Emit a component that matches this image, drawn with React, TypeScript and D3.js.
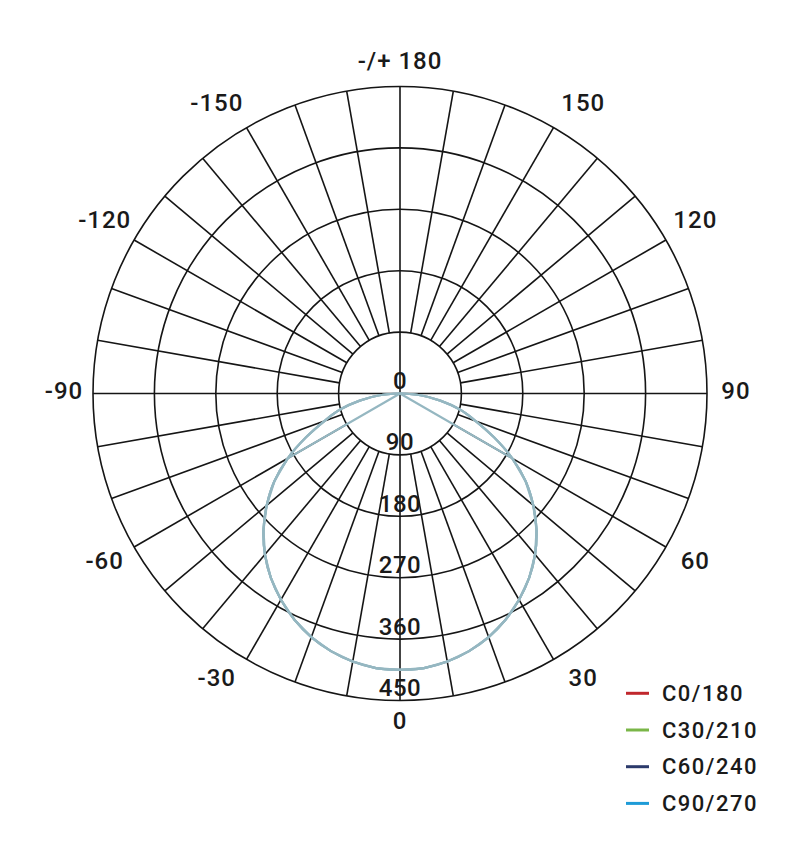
import React from "react";
import * as d3 from "d3";

// ---- data ----
const gammaAngles = [0, 5, 10, 15, 20, 25, 30, 35, 40, 45, 50, 55, 60, 65, 70, 75, 80, 85, 90];
const fullValues = [405, 404, 399, 391, 380, 366, 349, 330, 308, 283, 255, 225, 190, 152, 118, 91, 60, 30, 0];
const sparseAngles = [0, 5, 10, 15, 20, 25, 30, 35, 40, 45, 50, 55, 60, 90];
const sparseValues = [405, 404, 399, 391, 380, 366, 349, 330, 308, 283, 255, 225, 190, 0];

const seriesNames = ["C0/180", "C30/210", "C60/240", "C90/270"];
const seriesColors = ["#c0272d", "#7ab648", "#2b3a6b", "#1e9bd7"];

const ringTicks = [0, 90, 180, 270, 360, 450];
const angleLabels = ["0", "30", "60", "90", "120", "150", "-/+ 180", "-150", "-120", "-90", "-60", "-30"];
const angleLabelValues = [0, 30, 60, 90, 120, 150, 180, -150, -120, -90, -60, -30];

// ---- layout ----
const W = 810;
const H = 843;
const cx = 400;
const cy = 393.5;
const R = 307;
const curveStroke = "#95b7c1";
const gridStroke = "#151515";
const font = "Roboto, 'Noto Sans', sans-serif";

const rScale = d3.scaleLinear().domain([0, 450]).range([0, R]);
const rad = (d: number) => (d * Math.PI) / 180;
// theta measured from downward direction, positive toward right
const px = (theta: number, r: number) => cx + r * Math.sin(rad(theta));
const py = (theta: number, r: number) => cy + r * Math.cos(rad(theta));

type Pt = { a: number; r: number };

function planePoints(angles: number[], values: number[]): Pt[] {
  const left: Pt[] = [];
  for (let i = angles.length - 1; i >= 0; i--) left.push({ a: Math.PI + rad(angles[i]), r: rScale(values[i]) });
  const right: Pt[] = [];
  for (let i = 1; i < angles.length; i++) right.push({ a: Math.PI - rad(angles[i]), r: rScale(values[i]) });
  return [...left, ...right];
}

const smoothRadial = d3
  .lineRadial<Pt>()
  .angle((d) => d.a)
  .radius((d) => d.r)
  .curve(d3.curveCatmullRom);

const linearRadial = d3
  .lineRadial<Pt>()
  .angle((d) => d.a)
  .radius((d) => d.r)
  .curve(d3.curveLinear);

export default function App() {
  const r1 = rScale(90);
  const spokes = d3.range(0, 360, 10);

  const seriesData = seriesNames.map((_, i) =>
    i === 3 ? planePoints(sparseAngles, sparseValues) : planePoints(gammaAngles, fullValues)
  );

  return (
    <svg
      width={W}
      height={H}
      style={{ position: "absolute", left: 0, top: 0, background: "#fff" }}
      fontFamily={font}
    >
      <rect x={0} y={0} width={W} height={H} fill="#fff" />
      {/* rings */}
      {ringTicks.slice(1).map((t) => (
        <circle key={t} cx={cx} cy={cy} r={rScale(t)} fill="none" stroke={gridStroke} strokeWidth={1.6} />
      ))}
      {/* spokes */}
      {spokes.map((d) => {
        const r0 = d % 90 === 0 ? 0 : r1;
        return (
          <line
            key={d}
            x1={px(d, r0)}
            y1={py(d, r0)}
            x2={px(d, R)}
            y2={py(d, R)}
            stroke={gridStroke}
            strokeWidth={1.6}
          />
        );
      })}
      {/* ring labels */}
      {ringTicks.map((t) => (
        <text
          key={t}
          x={cx}
          y={cy + rScale(t) - 4.5}
          textAnchor="middle"
          fontSize={24}
          fontWeight={500}
          letterSpacing={0.5}
          fill="#1a1a1a"
        >
          {t}
        </text>
      ))}
      {/* curves */}
      <g transform={`translate(${cx},${cy})`}>
        {seriesData.map((pts, i) => (
          <path
            key={i}
            d={(i === 3 ? linearRadial(pts) : smoothRadial(pts)) || ""}
            fill="none"
            stroke={curveStroke}
            strokeWidth={2.2}
          />
        ))}
      </g>
      {/* angle labels */}
      {angleLabels.map((lab, i) => {
        const a = angleLabelValues[i];
        const s = Math.sin(rad(a));
        const c = Math.cos(rad(a));
        let nudge = 0;
        if (Math.abs(c) > 0.8 && Math.abs(s) > 0.1) nudge = 2.5 * Math.sign(s) * Math.sign(c);
        const lr = Math.abs(s) < 0.01 ? 330 : Math.abs(c) < 0.01 ? 336 : 341;
        const th = a + nudge;
        return (
          <text
            key={lab}
            x={px(th, lr)}
            y={py(th, lr) - 3}
            textAnchor="middle"
            dominantBaseline="central"
            fontSize={24}
            fontWeight={500}
            letterSpacing={1}
            fill="#1a1a1a"
          >
            {lab}
          </text>
        );
      })}
      {/* legend */}
      {seriesNames.map((n, i) => {
        const y = 693.3 + i * 36.7;
        return (
          <g key={n}>
            <line x1={626} x2={649} y1={y} y2={y} stroke={seriesColors[i]} strokeWidth={3} />
            <text
              x={662}
              y={y}
              dominantBaseline="central"
              fontSize={22}
              fontWeight={500}
              letterSpacing={1.5}
              fill="#1a1a1a"
            >
              {n}
            </text>
          </g>
        );
      })}
    </svg>
  );
}
